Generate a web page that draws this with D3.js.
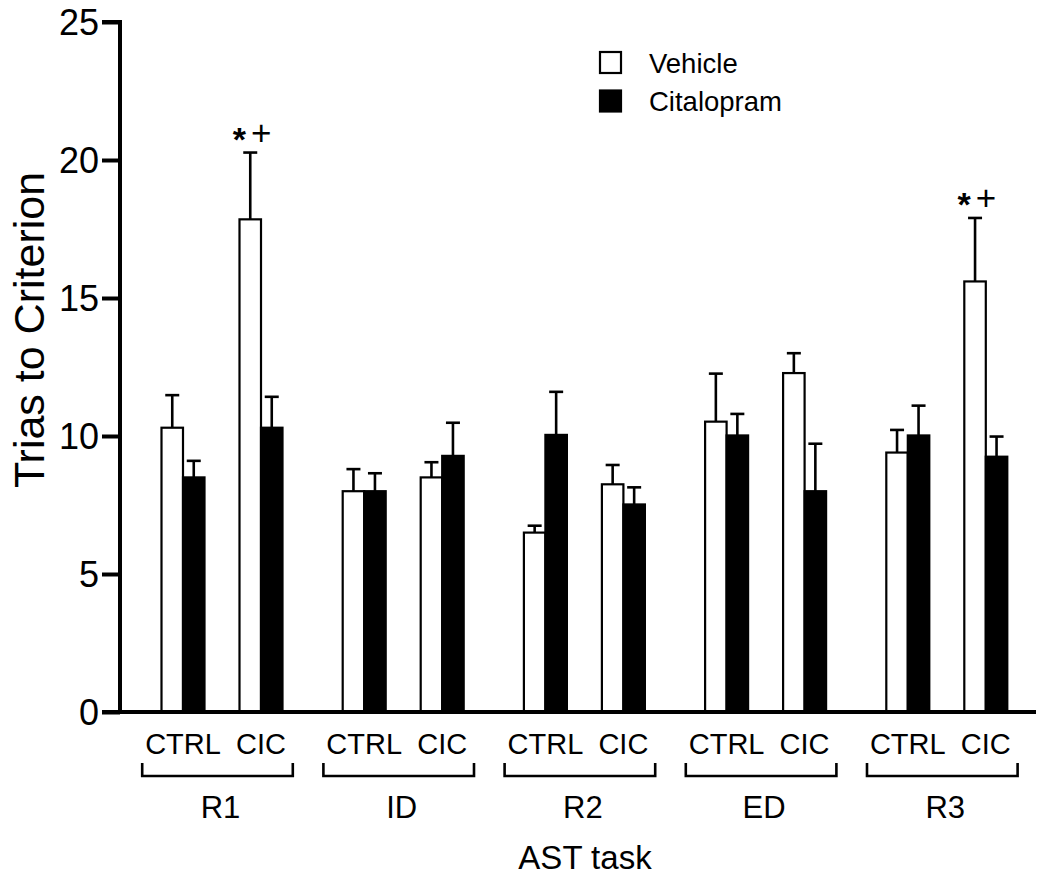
<!DOCTYPE html>
<html>
<head>
<meta charset="utf-8">
<script src="https://cdn.jsdelivr.net/npm/d3@7"></script>
<style>
  html, body { margin: 0; padding: 0; background: #fff; }
  svg { display: block; }
  text { font-family: "Liberation Sans", Arial, sans-serif; fill: #000; }
</style>
</head>
<body>
<svg id="chart" width="1051" height="878"></svg>
<script>
// ---- data ----
const tasks = ["R1", "ID", "R2", "ED", "R3"];
const conditions = ["CTRL", "CIC"];
const treatments = ["Vehicle", "Citalopram"];
// means, order: task x condition
const vehicleMean = [10.3, 17.85, 8.0, 8.5, 6.5, 8.25, 10.52, 12.28, 9.4, 15.6];
const vehicleErr  = [1.18, 2.42, 0.8, 0.55, 0.25, 0.7, 1.74, 0.72, 0.82, 2.3];
const citalMean   = [8.5, 10.3, 8.0, 9.28, 10.04, 7.52, 10.02, 8.0, 10.02, 9.25];
const citalErr    = [0.6, 1.12, 0.65, 1.2, 1.56, 0.62, 0.78, 1.72, 1.08, 0.73];
const yTicks = [0, 5, 10, 15, 20, 25];
const annotations = [{task: "R1", cond: "CIC", marks: ["*", "+"]}, {task: "R3", cond: "CIC", marks: ["*", "+"]}];

const rows = [];
tasks.forEach((t, ti) => conditions.forEach((c, ci) => {
  const i = ti * 2 + ci;
  rows.push({task: t, cond: c, trt: "Vehicle", mean: vehicleMean[i], err: vehicleErr[i]});
  rows.push({task: t, cond: c, trt: "Citalopram", mean: citalMean[i], err: citalErr[i]});
}));

const svg = d3.select("#chart");

const y = d3.scaleLinear().domain([0, 25]).range([712, 22]);
const x0 = d3.scaleBand().domain(tasks).range([131.9, 131.9 + 5 * 181.2]);
const x1 = d3.scaleBand().domain(conditions).range([12.1, 168.1]);
const x2 = d3.scaleBand().domain(treatments).range([0, 43]);

const pairCenter = (t, c) => x0(t) + x1(c) + x1.bandwidth() / 2;
const barX = d => pairCenter(d.task, d.cond) - 21.5 + x2(d.trt);

// bars
svg.append("g").selectAll("rect").data(rows).join("rect")
  .attr("x", barX)
  .attr("y", d => y(d.mean))
  .attr("width", x2.bandwidth())
  .attr("height", d => y(0) - y(d.mean))
  .attr("fill", d => d.trt === "Vehicle" ? "#fff" : "#000")
  .attr("stroke", "#000")
  .attr("stroke-width", 2.2);

// error bars (upper only)
const eg = svg.append("g").attr("stroke", "#000").attr("stroke-width", 2.6);
rows.forEach(d => {
  const cx = barX(d) + x2.bandwidth() / 2;
  eg.append("line").attr("x1", cx).attr("x2", cx).attr("y1", y(d.mean)).attr("y2", y(d.mean + d.err));
  eg.append("line").attr("x1", cx - 7).attr("x2", cx + 7).attr("y1", y(d.mean + d.err)).attr("y2", y(d.mean + d.err));
});

// annotations
annotations.forEach(a => {
  const i = tasks.indexOf(a.task) * 2 + conditions.indexOf(a.cond);
  const cx = pairCenter(a.task, a.cond) - 21.5 + x2("Vehicle") + x2.bandwidth() / 2;
  const capY = y(vehicleMean[i] + vehicleErr[i]);
  svg.append("text").attr("x", cx - 11).attr("y", capY - 2)
    .attr("text-anchor", "middle").attr("font-size", 34).attr("font-weight", "bold").text(a.marks[0]);
  svg.append("text").attr("x", cx + 11).attr("y", capY - 7.5)
    .attr("text-anchor", "middle").attr("font-size", 35).text(a.marks[1]);
});

// y axis
const yAxis = d3.axisLeft(y).tickValues(yTicks).tickSize(18).tickPadding(3);
const yg = svg.append("g").attr("transform", "translate(120,0)").call(yAxis);
yg.select(".domain").attr("stroke-width", 4).attr("d", "M-18,22H0V712H-18");
yg.selectAll(".tick line").attr("stroke-width", 4);
yg.selectAll(".tick text").attr("font-size", 36).attr("font-family", "Liberation Sans, Arial, sans-serif").attr("dy", "0.36em");

// x axis line
svg.append("line").attr("x1", 118).attr("x2", 1036).attr("y1", 712).attr("y2", 712)
  .attr("stroke", "#000").attr("stroke-width", 4);

// condition labels
tasks.forEach(t => conditions.forEach(c => {
  svg.append("text").attr("x", pairCenter(t, c)).attr("y", 754)
    .attr("text-anchor", "middle").attr("font-size", 29).text(c);
}));

// brackets and group labels
const bg = svg.append("g").attr("stroke", "#000").attr("stroke-width", 2.6).attr("fill", "none");
tasks.forEach(t => {
  const c = x0(t) + x0.bandwidth() / 2 - 5;
  bg.append("path").attr("d", `M${c - 75.3},763V776H${c + 75.3}V763`);
  svg.append("text").attr("x", c + 3).attr("y", 818).attr("text-anchor", "middle").attr("font-size", 31).text(t);
});

// axis titles
svg.append("text").attr("x", 585).attr("y", 869).attr("text-anchor", "middle").attr("font-size", 33).text("AST task");
svg.append("text").attr("transform", "translate(44,330) rotate(-90)").attr("text-anchor", "middle")
  .attr("font-size", 43).text("Trias to Criterion");

// legend
const lg = svg.append("g");
treatments.forEach((t, i) => {
  lg.append("rect").attr("x", 600).attr("y", 52 + i * 38.5).attr("width", 21).attr("height", 21)
    .attr("fill", i === 0 ? "#fff" : "#000").attr("stroke", "#000").attr("stroke-width", 2.2);
  lg.append("text").attr("x", 649).attr("y", 73 + i * 38).attr("font-size", 27.5).text(t);
});
</script>
</body>
</html>
